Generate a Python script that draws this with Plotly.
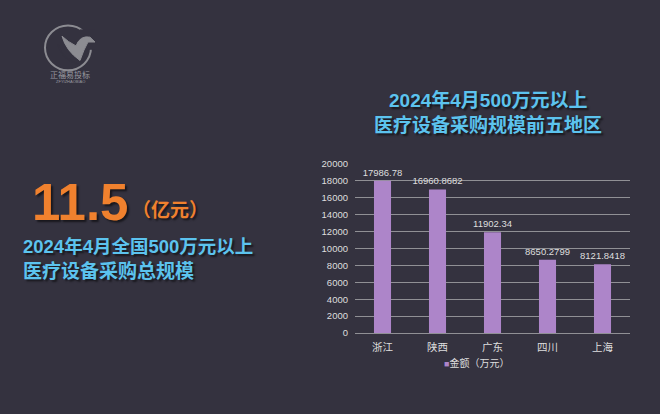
import plotly.graph_objects as go

categories = ["浙江", "陕西", "广东", "四川", "上海"]
values = [17986.78, 16960.8682, 11902.34, 8650.2799, 8121.8418]
value_labels = ["17986.78", "16960.8682", "11902.34", "8650.2799", "8121.8418"]
series_name = "金额（万元）"
y_ticks = list(range(0, 20001, 2000))

W, H = 660, 414
BG = "#34323f"
BAR = "#ad85c9"
BLUE = "#5cc3ee"
ORANGE = "#f0812e"
GREY = "#8c8c92"
FONT = "Liberation Sans, Noto Sans CJK SC, sans-serif"

def px(x):
    return x / W

def py(y):
    return (H - y) / H

fig = go.Figure()
fig.add_trace(go.Bar(
    x=categories, y=values, name=series_name,
    marker=dict(color=BAR, line=dict(width=0)),
    width=0.31,
    text=value_labels, textposition="outside", cliponaxis=False,
    constraintext="none",
    textfont=dict(size=9.5, color="#dedede", family=FONT),
    showlegend=False,
))

fig.update_layout(
    width=W, height=H,
    margin=dict(l=0, r=0, t=0, b=0),
    paper_bgcolor=BG, plot_bgcolor=BG,
    font=dict(family=FONT, color="#dedede"),
    showlegend=False,
    xaxis=dict(domain=[px(355), px(630)], showgrid=False, showline=False,
               ticks="", tickfont=dict(size=10.5, color="#dedede"),
               ticklabelstandoff=6, fixedrange=True),
    yaxis=dict(domain=[py(336), py(162)], range=[0, 20000], tickvals=y_ticks,
               tickformat="d",
               showgrid=True, gridcolor="#909095", gridwidth=1.3,
               zeroline=True, zerolinecolor="#909095", zerolinewidth=1.3,
               ticks="", ticklen=0, tickfont=dict(size=9.5, color="#dedede"),
               ticklabelstandoff=6, fixedrange=True),
)

shadow = "2px 2px 2px rgba(0,0,0,0.55)"
annotations = [
    dict(x=px(488), y=py(97), text="<b>2024年4月500万元以上</b>", font=dict(size=19, color=BLUE, shadow=shadow)),
    dict(x=px(488), y=py(123), text="<b>医疗设备采购规模前五地区</b>", font=dict(size=19, color=BLUE, shadow=shadow)),
    dict(x=px(30), y=py(202), xanchor="left", text="<b>11.5</b>",
         font=dict(size=51, color=ORANGE, family="Liberation Sans, sans-serif", shadow=shadow)),
    dict(x=px(130), y=py(210), xanchor="left", text="<b>（亿元）</b>",
         font=dict(size=19, color=ORANGE, shadow=shadow)),
    dict(x=px(21), y=py(247), xanchor="left", text="<b>2024年4月全国500万元以上</b>",
         font=dict(size=18.5, color=BLUE, shadow=shadow)),
    dict(x=px(21), y=py(273), xanchor="left", text="<b>医疗设备采购总规模</b>",
         font=dict(size=19, color=BLUE, shadow=shadow)),
    dict(x=px(476), y=py(367), text=f"<span style='color:{BAR};font-size:9px'>■</span>" + series_name,
         font=dict(size=10, color="#dedede")),
    dict(x=px(70), y=py(70), text="正福易投标", font=dict(size=8, color="#9a9aa0", family="Noto Sans CJK SC")),
    dict(x=px(70), y=py(78), text="ZFYIZHAOBIAO", font=dict(size=4, color="#9a9aa0")),
]
for a in annotations:
    a.setdefault("xanchor", "center")
    a.update(xref="paper", yref="paper", yanchor="middle", showarrow=False)
fig.update_layout(annotations=annotations)

# logo: circle and a stylized bird
fig.add_shape(type="circle", xref="paper", yref="paper",
              x0=px(45), x1=px(91), y0=py(66), y1=py(20),
              line=dict(color=GREY, width=2))
fig.add_shape(type="rect", xref="paper", yref="paper",
              x0=px(80), x1=px(95), y0=py(45), y1=py(24),
              line=dict(width=0), fillcolor=BG)
fig.add_shape(type="path", xref="paper", yref="paper",
              path=(f"M {px(62)} {py(31)} Q {px(66)} {py(46)} {px(80)} {py(56)} "
                    f"Q {px(84)} {py(44)} {px(88)} {py(37)} L {px(95)} {py(37)} "
                    f"L {px(90)} {py(32)} Q {px(80)} {py(30)} {px(76)} {py(41)} "
                    f"Q {px(68)} {py(37)} {px(62)} {py(31)} Z"),
              line=dict(color=GREY, width=1), fillcolor=GREY)
fig.add_shape(type="path", xref="paper", yref="paper",
              path=f"M {px(58)} {py(40)} Q {px(62)} {py(54)} {px(78)} {py(60)}",
              line=dict(color=BG, width=1.2))

fig.write_html("out.html")
